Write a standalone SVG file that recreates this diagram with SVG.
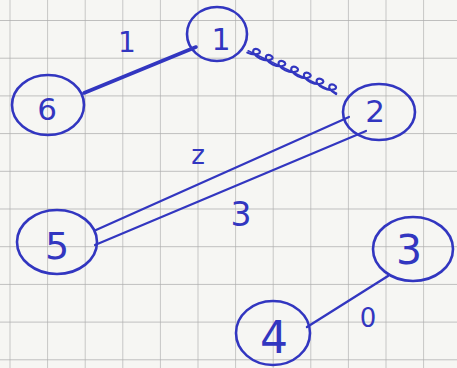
<svg xmlns="http://www.w3.org/2000/svg" width="457" height="368" viewBox="0 0 457 368">
  <defs>
    <pattern id="grid" x="9.5" y="20" width="37.6" height="37.7" patternUnits="userSpaceOnUse">
      <path d="M0,0 V37.7 M0,0 H37.6" fill="none" stroke="#adadad" stroke-width="1.3"/>
    </pattern>
    <style>
      .node { fill: none; stroke: #3236c0; stroke-width: 2.6; }
      .lbl { font-family: "DejaVu Sans", "Liberation Sans", sans-serif; fill: #3236c0; text-anchor: middle; }
      .edge { fill: none; stroke: #3236c0; stroke-linecap: round; stroke-linejoin: round; }
    </style>
  </defs>
  <rect width="457" height="368" fill="#f6f6f3"/>
  <rect width="457" height="368" fill="url(#grid)"/>

  <g id="connectors">
    <line class="edge" x1="84" y1="93" x2="196" y2="47" stroke-width="3.6"/>
    <g transform="translate(249,49) rotate(25)">
      <path class="edge" stroke-width="2.2"
        d="M0,4 c8,0 14,-5 10,-7 c-6,-2 -10,6 4,7 c8,0 14,-5 10,-7 c-6,-2 -10,6 4,7 c8,0 14,-5 10,-7 c-6,-2 -10,6 4,7 c8,0 14,-5 10,-7 c-6,-2 -10,6 4,7 c8,0 14,-5 10,-7 c-6,-2 -10,6 4,7 c8,0 14,-5 10,-7 c-6,-2 -10,6 4,7 c8,0 14,-5 10,-7 c-6,-2 -10,6 4,7"/>
      <line class="edge" x1="0" y1="2" x2="98" y2="3" stroke-width="1.6"/>
    </g>
    <line class="edge" x1="349" y1="117" x2="96" y2="230" stroke-width="2.2"/>
    <line class="edge" x1="366" y1="131" x2="95" y2="245" stroke-width="2.2"/>
    <line class="edge" x1="388" y1="276" x2="307" y2="327" stroke-width="2.4"/>
    <text class="lbl" x="127" y="52" font-size="28">1</text>
    <text class="lbl" x="198" y="164" font-size="26">z</text>
    <text class="lbl" x="241" y="226" font-size="33">3</text>
    <text class="lbl" x="368" y="327" font-size="26">0</text>
  </g>

  <g id="node1">
    <ellipse class="node" cx="217" cy="34" rx="30" ry="27"/>
    <text class="lbl" x="221" y="50" font-size="30">1</text>
  </g>
  <g id="node6">
    <ellipse class="node" cx="48" cy="105" rx="36" ry="30"/>
    <text class="lbl" x="47" y="120" font-size="31">6</text>
  </g>
  <g id="node2">
    <ellipse class="node" cx="379" cy="112" rx="36" ry="28"/>
    <text class="lbl" x="375" y="122" font-size="31">2</text>
  </g>
  <g id="node5">
    <ellipse class="node" cx="57" cy="242" rx="40" ry="32"/>
    <text class="lbl" x="57" y="259" font-size="38">5</text>
  </g>
  <g id="node3">
    <ellipse class="node" cx="413" cy="249" rx="40" ry="32"/>
    <text class="lbl" x="409" y="264" font-size="41">3</text>
  </g>
  <g id="node4">
    <ellipse class="node" cx="273" cy="333" rx="37" ry="32"/>
    <text class="lbl" x="274" y="353" font-size="44">4</text>
  </g>
</svg>
